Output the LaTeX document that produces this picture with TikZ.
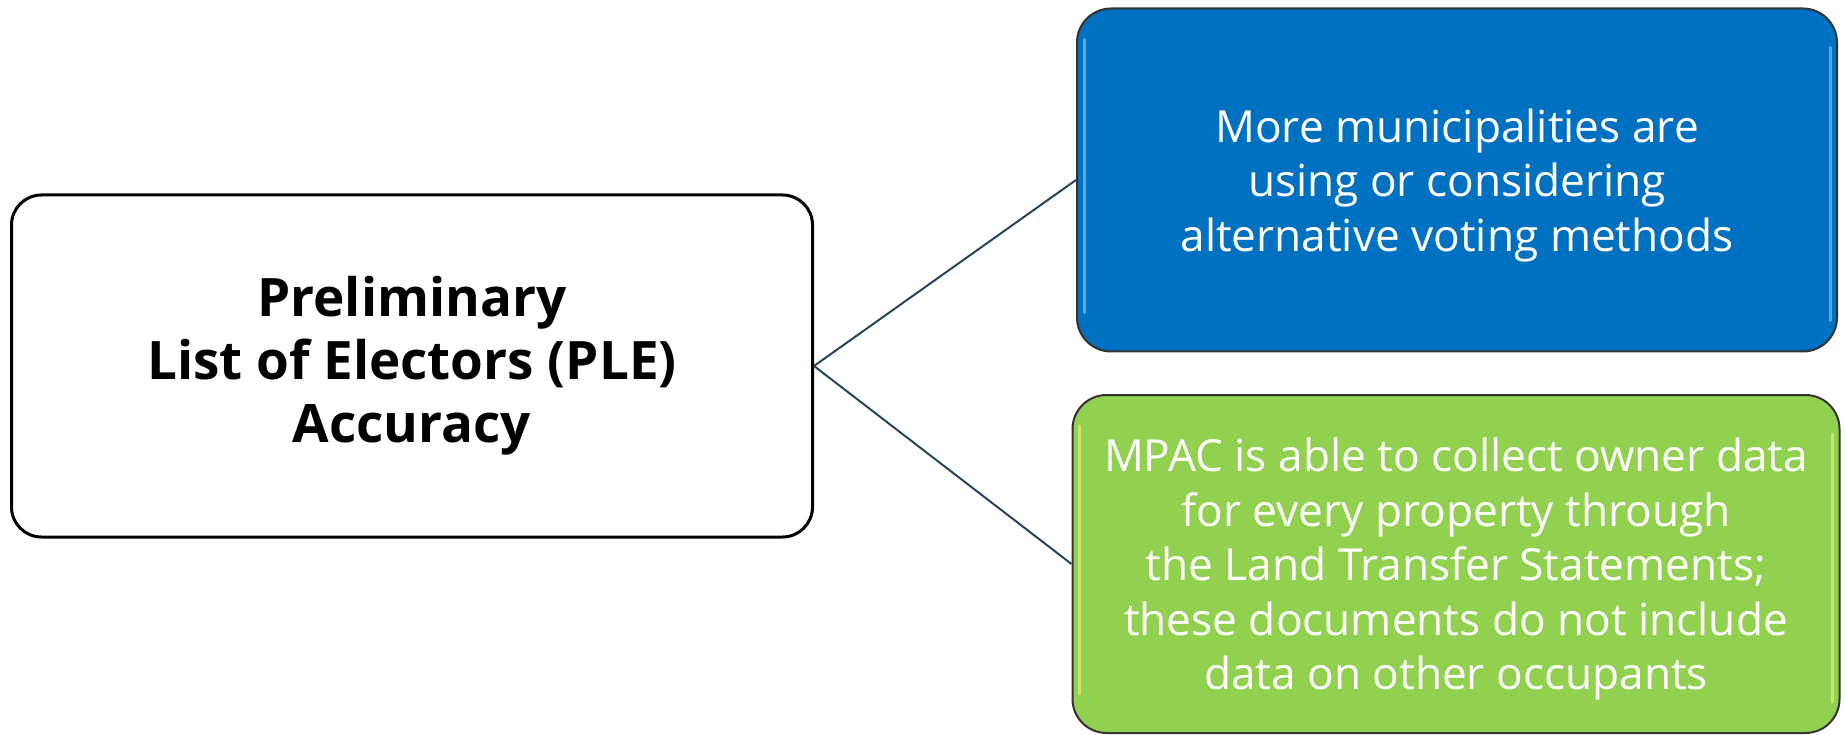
\documentclass[tikz,border=0pt]{standalone}
\usepackage{fontspec}
\setmainfont{Open Sans}
\usetikzlibrary{positioning}
\definecolor{boxblue}{HTML}{0070C0}
\definecolor{boxgreen}{HTML}{92D050}
\definecolor{linkcol}{HTML}{24455F}
\begin{document}
\begin{tikzpicture}[x=1pt,y=-1pt,
    mainbox/.style={draw=black,line width=3pt,rounded corners=30pt,fill=white,
        align=center,font=\fontsize{53}{63}\selectfont\bfseries},
    leafbox/.style={draw=black!80,line width=2pt,rounded corners=34pt,text depth=0pt,
        align=center,text=white,font=\fontsize{44.2}{54.5}\selectfont},
    shine/.style={line width=3pt,line cap=round,opacity=.55},
    link/.style={draw=linkcol,line width=2pt}]
    \useasboundingbox (0,0) rectangle (1845,735);
    % left box
    \node[mainbox,minimum width=801pt,minimum height=342pt] (ple) at (412,366)
        {Preliminary\\List of Electors (PLE)\\Accuracy};
    % right boxes
    \node[leafbox,fill=boxblue,minimum width=760pt,minimum height=343pt] (voting) at (1457,180)
        {More municipalities are\\using or considering\\alternative voting methods};
    \node[leafbox,fill=boxgreen,minimum width=767pt,minimum height=338pt] (mpac) at (1456,564)
        {MPAC is able to collect owner data\\for every property through\\the Land Transfer Statements;\\these documents do not include\\data on other occupants};
    % light edges
    \draw[shine,draw=cyan!40] ([xshift=8pt,yshift=-32pt]voting.north west) -- ([xshift=8pt,yshift=40pt]voting.south west);
    \draw[shine,draw=cyan!40] ([xshift=-8pt,yshift=-40pt]voting.north east) -- ([xshift=-8pt,yshift=32pt]voting.south east);
    \draw[shine,draw=yellow!50] ([xshift=8pt,yshift=-32pt]mpac.north west) -- ([xshift=8pt,yshift=40pt]mpac.south west);
    \draw[shine,draw=yellow!50] ([xshift=-8pt,yshift=-40pt]mpac.north east) -- ([xshift=-8pt,yshift=32pt]mpac.south east);
    % connectors
    \draw[link] (ple.east) -- (voting.west);
    \draw[link] (ple.east) -- (mpac.west);
\end{tikzpicture}
\end{document}
